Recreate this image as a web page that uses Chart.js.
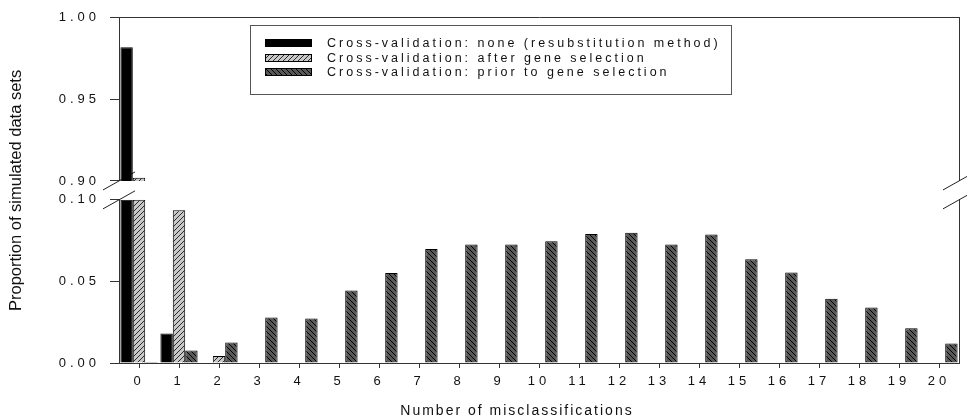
<!DOCTYPE html>
<html>
<head>
<meta charset="utf-8">
<script src="https://cdn.jsdelivr.net/npm/chart.js@4.4.1/dist/chart.umd.min.js"></script>
<style>
  html, body { margin: 0; padding: 0; background: #fff; }
  #wrap { position: relative; width: 967px; height: 420px; }
  #chart { display: block; }
  #legend { position: absolute; left: 250px; top: 25px; width: 482px; height: 70px; box-sizing: border-box;
            border: 1px solid #555; background: #fff; font-family: "Liberation Sans", Arial, sans-serif;
            font-size: 12.5px; letter-spacing: 3px; color: #111; }
  .lrow { position: absolute; left: 14px; height: 14px; display: flex; align-items: center; white-space: nowrap; }
  .lrow canvas { width: 47px; height: 8px; box-sizing: border-box; margin-right: 15px; }
</style>
</head>
<body>
<div id="wrap">
  <canvas id="chart" width="967" height="420"></canvas>
  <div id="legend"></div>
</div>
<script>
// ---------- data ----------
const categories = ['0','1','2','3','4','5','6','7','8','9','10','11','12','13','14','15','16','17','18','19','20'];
const seriesLabels = [
  'Cross-validation: none (resubstitution method)',
  'Cross-validation: after gene selection',
  'Cross-validation: prior to gene selection'
];
const noneVals  = [0.982, 0.0181, 0, 0, 0, 0, 0, 0, 0, 0, 0, 0, 0, 0, 0, 0, 0, 0, 0, 0, 0];
const afterVals = [0.902, 0.0937, 0.0043, 0, 0, 0, 0, 0, 0, 0, 0, 0, 0, 0, 0, 0, 0, 0, 0, 0, 0];
const priorVals = [0.0006, 0.0077, 0.0126, 0.0279, 0.0272, 0.0445, 0.0551, 0.0699, 0.0726, 0.0726, 0.0746,
                   0.0791, 0.0799, 0.0726, 0.0787, 0.0636, 0.0555, 0.0394, 0.0340, 0.0213, 0.0120];
const lowerTicks = [0, 0.05, 0.10];
const upperTicks = [0.90, 0.95, 1.00];
const BOT_MIN = 0, BOT_MAX = 0.10, TOP_MIN = 0.90, TOP_MAX = 1.00;

// ---------- styles ----------
const FONT = '"Liberation Sans", Arial, sans-serif';
const TICK_SPACING = '4px';

function hatch(bg, fg, dir) {
  const s = 5;
  const c = document.createElement('canvas');
  c.width = s; c.height = s;
  const g = c.getContext('2d');
  g.fillStyle = bg; g.fillRect(0, 0, s, s);
  g.strokeStyle = fg; g.lineWidth = 1;
  g.beginPath();
  if (dir === '/') {
    g.moveTo(-1, s + 1); g.lineTo(s + 1, -1);
    g.moveTo(-1, 1); g.lineTo(1, -1);
    g.moveTo(s - 1, s + 1); g.lineTo(s + 1, s - 1);
  } else {
    g.moveTo(-1, -1); g.lineTo(s + 1, s + 1);
    g.moveTo(s - 1, -1); g.lineTo(s + 1, 1);
    g.moveTo(-1, s - 1); g.lineTo(1, s + 1);
  }
  g.stroke();
  return g.createPattern(c, 'repeat');
}
const fills = ['#000000', hatch('#c8c8c8', '#2a2a2a', '/'), hatch('#585858', '#000000', '\\')];
const stackKeys = ['none', 'after', 'prior'];
const valueSets = [noneVals, afterVals, priorVals];

const datasets = [];
valueSets.forEach((vals, i) => {
  datasets.push({
    label: seriesLabels[i],
    data: vals.map(v => Math.min(v, BOT_MAX)),
    yAxisID: 'yBot', xAxisID: 'x', stack: stackKeys[i],
    backgroundColor: fills[i], borderColor: '#000', borderWidth: 1,
    categoryPercentage: 0.93, barPercentage: 1.0
  });
});
valueSets.forEach((vals, i) => {
  datasets.push({
    label: seriesLabels[i] + ' (upper)',
    data: vals.map(v => v > TOP_MIN ? [TOP_MIN, v] : null),
    yAxisID: 'yTop', xAxisID: 'x', stack: stackKeys[i],
    backgroundColor: fills[i], borderColor: '#000', borderWidth: 1,
    categoryPercentage: 0.93, barPercentage: 1.0
  });
});

// linear scale whose title is drawn without letter spacing
class PlainTitleLinear extends Chart.LinearScale {
  drawTitle() {
    const c = this.ctx;
    const prev = c.letterSpacing;
    c.letterSpacing = '0px';
    super.drawTitle();
    c.letterSpacing = prev;
  }
}
PlainTitleLinear.id = 'plainTitleLinear';
PlainTitleLinear.defaults = Chart.LinearScale.defaults;
Chart.register(PlainTitleLinear);

// category scale whose title uses its own letter spacing and a horizontal shift
class SpacedTitleCategory extends Chart.CategoryScale {
  drawTitle() {
    const c = this.ctx;
    const prev = c.letterSpacing;
    const o = this.options.titleStyle || {};
    c.save();
    c.letterSpacing = o.spacing || '0px';
    c.translate(o.shift || 0, 0);
    super.drawTitle();
    c.restore();
    c.letterSpacing = prev;
  }
}
SpacedTitleCategory.id = 'spacedTitleCategory';
SpacedTitleCategory.defaults = Chart.CategoryScale.defaults;
Chart.register(SpacedTitleCategory);

const spacingPlugin = {
  id: 'spacing',
  beforeUpdate(chart) { chart.ctx.letterSpacing = TICK_SPACING; },
  beforeDraw(chart) { chart.ctx.letterSpacing = TICK_SPACING; }
};

const breakPlugin = {
  id: 'axisBreak',
  beforeDatasetsDraw(chart) {
    const { ctx, chartArea } = chart;
    const yA = chart.scales.yTop.bottom;
    const yB = chart.scales.yBot.top;
    ctx.save();
    ctx.strokeStyle = '#222';
    ctx.lineWidth = 1;
    [chartArea.left, chartArea.right].forEach(x => {
      [yA, yB].forEach(y => {
        ctx.beginPath();
        ctx.moveTo(x - 16, y + 9);
        ctx.lineTo(x + 16, y - 9);
        ctx.stroke();
      });
    });
    ctx.restore();
  }
};

const tickFont = { family: FONT, size: 13 };
const axisColor = '#333';
const fixW = w => s => { s.width = w; };
const fixH = h => s => { s.height = h; };

const ctx = document.getElementById('chart').getContext('2d');
const chart = new Chart(ctx, {
  type: 'bar',
  data: { labels: categories, datasets },
  options: {
    responsive: false,
    animation: false,
    layout: { padding: 0 },
    plugins: { legend: { display: false }, tooltip: { enabled: false } },
    scales: {
      x: {
        type: 'spacedTitleCategory', position: 'bottom', offset: true,
        titleStyle: { spacing: '2px', shift: -22 },
        grid: { display: true, drawOnChartArea: false, drawTicks: true, tickLength: 5, offset: false, color: axisColor },
        border: { display: true, color: axisColor, width: 1 },
        ticks: { font: tickFont, color: '#111', padding: 6, maxRotation: 0, autoSkip: false },
        title: { display: true, text: 'Number of misclassifications', font: { family: FONT, size: 14 }, color: '#111', padding: 0 },
        afterFit: fixH(57)
      },
      xTop: {
        type: 'category', position: 'top', offset: true,
        grid: { display: false }, ticks: { display: false },
        border: { display: true, color: axisColor, width: 1 },
        afterFit: fixH(16)
      },
      yTop: {
        type: 'linear', position: 'left', stack: 'L', stackWeight: 164, weight: 3,
        min: TOP_MIN, max: TOP_MAX, stacked: false,
        afterBuildTicks: s => { s.ticks = upperTicks.map(v => ({ value: v })); },
        ticks: { font: tickFont, color: '#111', padding: 10, callback: v => Number(v).toFixed(2) },
        grid: { display: true, drawOnChartArea: false, tickLength: 9, color: axisColor },
        border: { display: true, color: axisColor, width: 1 },
        afterFit: fixW(119)
      },
      yGap: {
        type: 'plainTitleLinear', position: 'left', stack: 'L', stackWeight: 19, weight: 2,
        min: 0, max: 1,
        ticks: { display: false }, grid: { display: false }, border: { display: false },
        title: { display: true, text: 'Proportion of simulated data sets', font: { family: FONT, size: 16.5 }, color: '#111', padding: { top: 7, bottom: 0 } },
        afterFit: fixW(119)
      },
      yBot: {
        type: 'linear', position: 'left', stack: 'L', stackWeight: 164, weight: 1,
        min: BOT_MIN, max: BOT_MAX, stacked: false,
        afterBuildTicks: s => { s.ticks = lowerTicks.map(v => ({ value: v })); },
        ticks: { font: tickFont, color: '#111', padding: 10, callback: v => Number(v).toFixed(2) },
        grid: { display: true, drawOnChartArea: false, tickLength: 9, color: axisColor },
        border: { display: true, color: axisColor, width: 1 },
        afterFit: fixW(119)
      },
      yTopR: {
        type: 'linear', position: 'right', stack: 'R', stackWeight: 164, weight: 1,
        min: TOP_MIN, max: TOP_MAX,
        ticks: { display: false }, grid: { display: false },
        border: { display: true, color: axisColor, width: 1 },
        afterFit: fixW(8)
      },
      yGapR: {
        type: 'linear', position: 'right', stack: 'R', stackWeight: 19, weight: 2,
        min: 0, max: 1,
        ticks: { display: false }, grid: { display: false }, border: { display: false },
        afterFit: fixW(8)
      },
      yBotR: {
        type: 'linear', position: 'right', stack: 'R', stackWeight: 164, weight: 3,
        min: BOT_MIN, max: BOT_MAX,
        ticks: { display: false }, grid: { display: false },
        border: { display: true, color: axisColor, width: 1 },
        afterFit: fixW(8)
      }
    }
  },
  plugins: [spacingPlugin, breakPlugin]
});

// ---------- HTML legend built from the chart's own legend items ----------
const legendEl = document.getElementById('legend');
const items = Chart.defaults.plugins.legend.labels.generateLabels(chart).filter(it => it.datasetIndex < 3);
const rowCenters = [17, 31.5, 46];
items.forEach((it, i) => {
  const row = document.createElement('div');
  row.className = 'lrow';
  row.style.top = (rowCenters[i] - 7) + 'px';
  const sw = document.createElement('canvas');
  sw.width = 47; sw.height = 8;
  const g = sw.getContext('2d');
  g.fillStyle = it.fillStyle; g.fillRect(0, 0, 47, 8);
  g.strokeStyle = '#000'; g.lineWidth = 1; g.strokeRect(0.5, 0.5, 46, 7);
  const tx = document.createElement('span');
  tx.textContent = it.text;
  row.appendChild(sw); row.appendChild(tx);
  legendEl.appendChild(row);
});
</script>
</body>
</html>
